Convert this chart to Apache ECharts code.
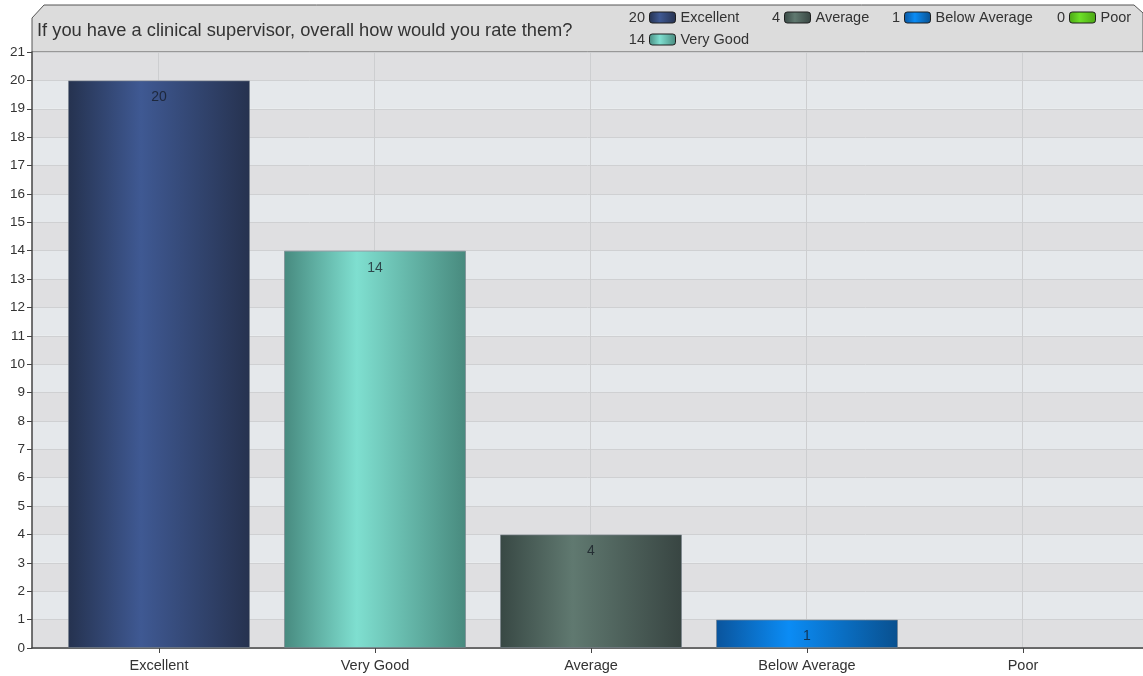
<!DOCTYPE html>
<html>
<head>
<meta charset="utf-8">
<script src="https://cdn.jsdelivr.net/npm/echarts@6/dist/echarts.min.js"></script>
<style>
  html, body { margin: 0; padding: 0; background: #fff; }
  #chart { width: 1143px; height: 676px; }
</style>
</head>
<body>
<div id="chart"></div>
<script>
const titleText = 'If you have a clinical supervisor, overall how would you rate them?'
const categories = ['Excellent', 'Very Good', 'Average', 'Below Average', 'Poor']
const counts = [20, 14, 4, 1, 0]
// edge, center, edge colours of each bar
const barColors = [
  ['#25324f', '#3f5993', '#26324f'],
  ['#478a7f', '#7fdfd0', '#488a7e'],
  ['#384844', '#607970', '#384542'],
  ['#0a549c', '#0b8cf5', '#09508f'],
  ['#4aa514', '#6de028', '#4aa514']
]
// legend rows as in the picture: first row four items, second row one
const legendSpots = [
  { left: 649, top: 10 },
  { left: 649, top: 32 },
  { left: 784, top: 10 },
  { left: 904, top: 10 },
  { left: 1069, top: 10 }
]

const font = 'Liberation Sans, Arial, sans-serif'
const chart = echarts.init(document.getElementById('chart'))

function grad (c) {
  return new echarts.graphic.LinearGradient(0, 0, 1, 0, [
    { offset: 0, color: c[0] },
    { offset: 0.4, color: c[1] },
    { offset: 1, color: c[2] }
  ])
}

const gridBox = { top: 52, bottom: 28 }

let series = categories.map((name, i) => ({
  name: name,
  type: 'bar',
  xAxisIndex: 2,
  yAxisIndex: 2,
  barWidth: 182,
  barGap: '-100%',
  data: counts.map((v, j) => {
    if (j !== i) return '-'
    // a zero bar draws nothing in the picture
    return v > 0 ? v : { value: v, itemStyle: { borderWidth: 0, opacity: 0 } }
  }),
  itemStyle: {
    color: grad(barColors[i]),
    borderColor: 'rgba(120,130,140,0.6)',
    borderWidth: 1
  },
  label: {
    show: true,
    position: 'insideTop',
    distance: 10,
    fontSize: 14,
    fontFamily: font,
    color: 'rgba(20,25,35,0.75)',
    formatter: (p) => (p.value > 0 ? p.value : '')
  }
}))

let legends = categories.map((name, i) => ({
  data: [name],
  left: legendSpots[i].left,
  top: legendSpots[i].top,
  padding: 0,
  icon: 'roundRect',
  itemWidth: 26,
  itemHeight: 11,
  itemGap: 5,
  selectedMode: false,
  itemStyle: { borderColor: '#1e1e1e', borderWidth: 1, opacity: 1 },
  textStyle: { fontSize: 14.5, fontFamily: font, color: '#333' }
}))

let legendNums = categories.map((name, i) => ({
  type: 'text',
  right: 1143 - legendSpots[i].left + 4,
  top: legendSpots[i].top,
  z: 20,
  style: {
    text: String(counts[i]),
    fontSize: 14.5,
    fontFamily: font,
    fill: '#333',
    textAlign: 'right'
  }
}))

chart.setOption({
  backgroundColor: '#fff',
  animation: false,
  title: {
    text: titleText,
    left: 32,
    top: 17,
    textStyle: { fontSize: 18.3, fontWeight: 'normal', fontFamily: font, color: '#333' }
  },
  legend: legends,
  graphic: [
    {
      type: 'polygon',
      z: -10,
      shape: { points: [[32, 52], [32, 18], [44, 5], [1134, 5], [1143, 13], [1143, 52]] },
      style: { fill: '#dcdcdc', stroke: '#555', lineWidth: 1 }
    }
  ].concat(legendNums),
  grid: [
    Object.assign({ left: 32, right: 0 }, gridBox),
    Object.assign({ left: 158, right: 121 }, gridBox),
    Object.assign({ left: 51, right: 12 }, gridBox)
  ],
  xAxis: [
    {
      gridIndex: 0,
      type: 'value',
      min: 0,
      max: 1,
      axisLine: { show: true, lineStyle: { color: '#444', width: 1.5 } },
      axisTick: { show: false },
      axisLabel: { show: false },
      splitLine: { show: false }
    },
    {
      gridIndex: 1,
      type: 'category',
      boundaryGap: false,
      data: categories,
      axisLine: { show: false },
      axisTick: { show: false },
      axisLabel: { show: false },
      splitLine: { show: true, lineStyle: { color: '#cdced0', width: 1 } }
    },
    {
      gridIndex: 2,
      type: 'category',
      data: categories,
      axisLine: { show: false },
      axisTick: { show: true, alignWithLabel: true, length: 5, lineStyle: { color: '#444' } },
      axisLabel: { fontSize: 14.5, fontFamily: font, color: '#333', margin: 10 },
      splitLine: { show: false }
    }
  ],
  yAxis: [
    {
      gridIndex: 0,
      type: 'value',
      min: 0,
      max: 21,
      interval: 1,
      axisLine: { show: true, lineStyle: { color: '#444', width: 1.5 } },
      axisTick: { show: true, length: 5, lineStyle: { color: '#444' } },
      axisLabel: { fontSize: 13.5, fontFamily: font, color: '#333', margin: 7 },
      splitLine: { show: true, lineStyle: { color: '#cfd0d2' } },
      splitArea: { show: true, areaStyle: { color: ['#dfdfe1', '#e5e8eb'] } }
    },
    { gridIndex: 1, type: 'value', min: 0, max: 21, show: false },
    { gridIndex: 2, type: 'value', min: 0, max: 21, show: false }
  ],
  series: series
})
</script>
</body>
</html>
